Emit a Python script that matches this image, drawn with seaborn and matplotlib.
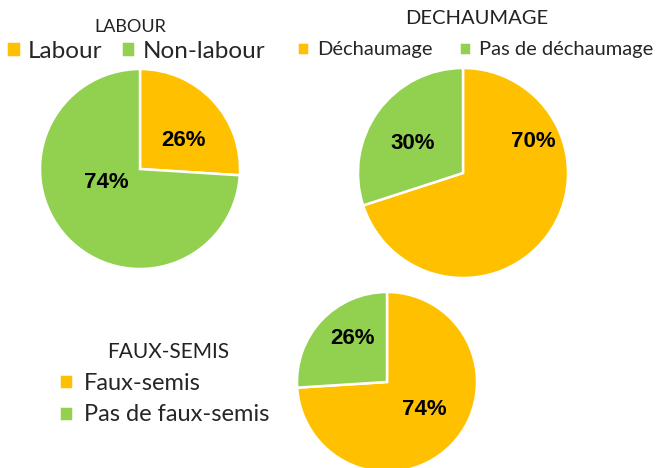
import matplotlib
matplotlib.use("Agg")
import matplotlib.pyplot as plt
import seaborn as sns

# data
labour_labels = ["Labour", "Non-labour"]
labour_values = [26, 74]
dech_labels = ["Déchaumage", "Pas de déchaumage"]
dech_values = [70, 30]
faux_labels = ["Faux-semis", "Pas de faux-semis"]
faux_values = [74, 26]

sns.set_theme(style="white")
plt.rcParams["font.family"] = ["Lato", "DejaVu Sans"]

colors = ["#FFC000", "#92D050"]
W, H = 658, 468
fig = plt.figure(figsize=(W / 100, H / 100), dpi=100)


def pie_axes(cx, cy, r):
    # pixel centre/radius -> figure axes
    return fig.add_axes([(cx - r) / W, (H - cy - r) / H, 2 * r / W, 2 * r / H])


def draw_pie(ax, values, label_pos):
    wedges, _, autotexts = ax.pie(values, colors=colors, startangle=90, counterclock=False,
                                  autopct="%d%%", pctdistance=0.55,
                                  wedgeprops={"edgecolor": "white", "linewidth": 1.8},
                                  textprops={"fontsize": 16, "fontweight": "bold",
                                             "family": "Liberation Sans", "color": "black"})
    for t, pos in zip(autotexts, label_pos):
        t.set_position(pos)
    ax.set_xlim(-1, 1)
    ax.set_ylim(-1, 1)
    ax.set_aspect("equal")
    ax.axis("off")
    for w in wedges:
        w.set_clip_on(False)
    return wedges


# LABOUR
ax1 = pie_axes(140, 169, 100)
w1 = draw_pie(ax1, labour_values, [(0.43, 0.29), (-0.34, -0.13)])
fig.text(130 / W, 1 - 27 / H, "LABOUR", ha="center", va="center", fontsize=13, color="#222222")
fig.legend(w1, labour_labels, loc="center left", bbox_to_anchor=(0 / W, 1 - 51 / H),
           ncol=2, frameon=False, fontsize=17.5, handlelength=0.6, handleheight=0.6,
           handletextpad=0.3, columnspacing=0.75, borderpad=0, borderaxespad=0.25)

# DECHAUMAGE
ax2 = pie_axes(463, 173, 105)
w2 = draw_pie(ax2, dech_values, [(0.67, 0.30), (-0.48, 0.28)])
fig.text(477 / W, 1 - 18 / H, "DECHAUMAGE", ha="center", va="center", fontsize=14.5, color="#222222")
fig.legend(w2, dech_labels, loc="center left", bbox_to_anchor=(287 / W, 1 - 50 / H),
           ncol=2, frameon=False, fontsize=14.5, handlelength=0.6, handleheight=0.6,
           handletextpad=0.4, columnspacing=1.3, borderpad=0)

# FAUX-SEMIS
ax3 = pie_axes(387, 382, 90)
w3 = draw_pie(ax3, faux_values, [(0.41, -0.31), (-0.38, 0.48)])
fig.text(168 / W, 1 - 352 / H, "FAUX-SEMIS", ha="center", va="center", fontsize=15, color="#222222")
fig.legend(w3, faux_labels, loc="upper left", bbox_to_anchor=(47 / W, 1 - 361 / H),
           ncol=1, frameon=False, fontsize=17, handlelength=0.6, handleheight=0.6,
           handletextpad=0.45, labelspacing=0.45, borderpad=0)

fig.savefig("out.png", dpi=100)
